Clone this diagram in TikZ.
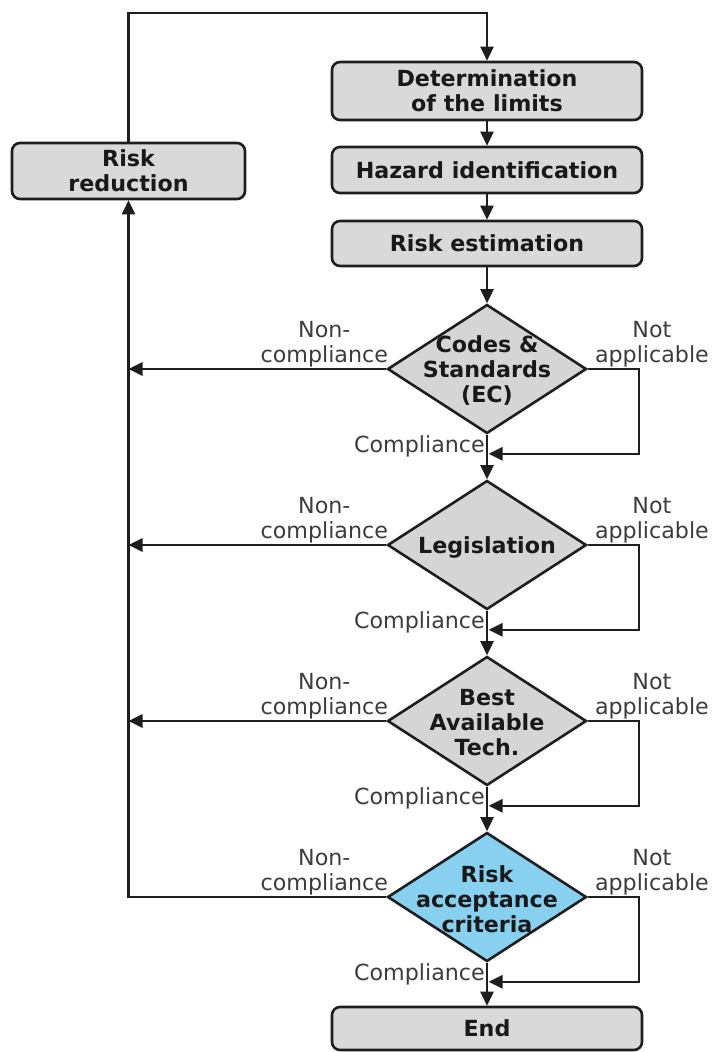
\documentclass[tikz,border=0pt]{standalone}
\usepackage{fontspec}
\setmainfont{DejaVu Sans}
\usepackage{tikz}
\usetikzlibrary{shapes.geometric, arrows.meta, positioning, calc}
\definecolor{boxgray}{RGB}{217, 217, 217}
\definecolor{decgray}{RGB}{213, 213, 213}
\definecolor{critblue}{RGB}{135, 208, 240}
\definecolor{linedark}{RGB}{30, 30, 30}
\definecolor{labelgray}{RGB}{60, 60, 60}
\newcommand{\flowfont}{\fontsize{22.2pt}{25pt}\selectfont}

\begin{document}
\begin{tikzpicture}[
    x=1pt, y=-1pt,
    box/.style={
        rectangle,
        rounded corners=8pt,
        draw=linedark,
        line width=2.6pt,
        fill=boxgray,
        inner sep=0pt,
        minimum width=310pt,
        align=center,
        text=black!90,
        font=\flowfont\bfseries
    },
    decision/.style={
        diamond,
        draw=linedark,
        line width=2.6pt,
        fill=decgray,
        inner sep=0pt,
        minimum width=199pt,
        minimum height=129pt
    },
    dectext/.style={
        align=center,
        inner sep=0pt,
        text=black!90,
        font=\flowfont\bfseries
    },
    branch/.style={
        align=center,
        inner sep=0pt,
        text=labelgray,
        font=\flowfont
    },
    arrow/.style={
        -{Triangle[length=14pt, width=13pt]},
        line width=2.6pt,
        draw=linedark
    }
]
    \useasboundingbox (0,0) rectangle (712,1052);

    % Process boxes
    \node[box, minimum height=58pt] (limits) at (487,91) {Determination\\of the limits};
    \node[box, minimum height=46pt] (hazard) at (487,170) {Hazard identification};
    \node[box, minimum height=45pt] (estim) at (487,243.5) {Risk estimation};
    \node[box, minimum width=233pt, minimum height=56pt] (reduce) at (128.5,171) {Risk\\reduction};
    \node[box, minimum height=43pt] (finish) at (487,1028.5) {End};

    % Decisions
    \node[decision] (codes) at (487,369) {};
    \node[decision] (legis) at (487,545) {};
    \node[decision] (bat) at (487,721) {};
    \node[decision, fill=critblue] (accept) at (487,897) {};

    \node[dectext] (codestxt) at ([yshift=-2pt]codes.center) {Codes \&\\Standards\\(EC)};
    \node[dectext] (legistxt) at ([yshift=-2pt]legis.center) {Legislation};
    \node[dectext] (battxt) at ([yshift=-2pt]bat.center) {Best\\Available\\Tech.};
    \node[dectext] (accepttxt) at ([yshift=-2pt]accept.center) {Risk\\acceptance\\criteria};

    % Branch labels
    \foreach \d in {codes, legis, bat, accept} {
        \node[branch, anchor=south east] (\d-non) at ([xshift=2pt, yshift=2pt]\d.west) {Non-\\compliance};
        \node[branch, anchor=south west] (\d-na) at ([xshift=7pt, yshift=2pt]\d.east) {Not\\applicable};
        \node[branch, anchor=north east] (\d-ok) at ([xshift=-2pt, yshift=-1pt]\d.south) {Compliance};
        \coordinate (\d-ret) at ([xshift=1.5pt, yshift=-19pt]\d.south);
        \draw[arrow] (\d.east) -- ++(51,0) |- (\d-ret);
    }

    % Main flow
    \coordinate (looptop) at (487,13);
    \draw[arrow] (reduce.north) |- (looptop) -- (limits.north);
    \draw[arrow] (limits.south) -- (hazard.north);
    \draw[arrow] (hazard.south) -- (estim.north);
    \draw[arrow] (estim.south) -- (codes.north);
    \draw[arrow] (codes.south) -- (legis.north);
    \draw[arrow] (legis.south) -- (bat.north);
    \draw[arrow] (bat.south) -- (accept.north);
    \draw[arrow] (accept.south) -- (finish.north);

    % Non-compliance returns
    \draw[arrow] (codes.west) -- (codes.west -| reduce.south);
    \draw[arrow] (legis.west) -- (legis.west -| reduce.south);
    \draw[arrow] (bat.west) -- (bat.west -| reduce.south);
    \draw[arrow] (accept.west) -| (reduce.south);

\end{tikzpicture}
\end{document}
